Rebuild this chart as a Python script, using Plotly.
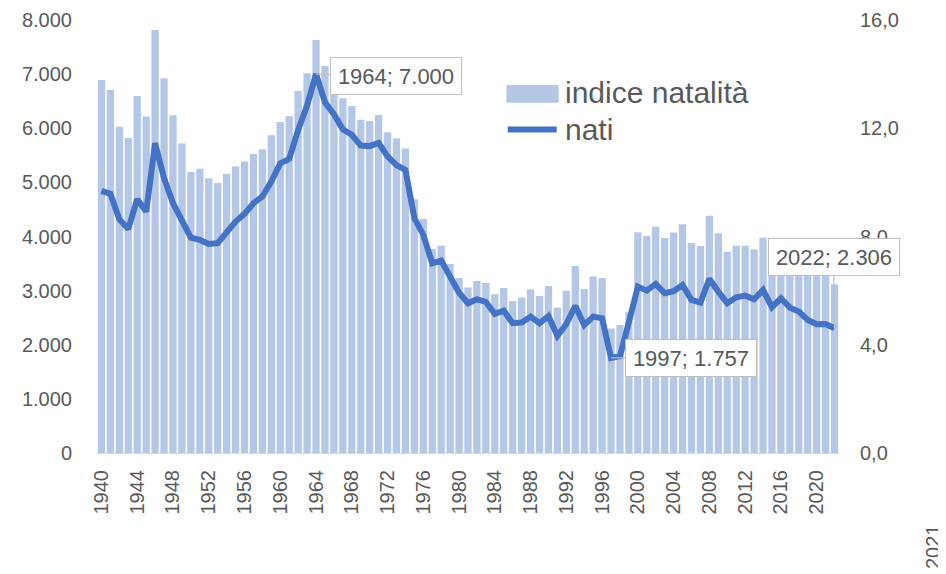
import plotly.graph_objects as go

years = list(range(1940, 2023))

nati = [
    4843, 4787, 4320, 4140, 4689, 4461, 5724, 5077, 4615, 4276,   # 1940-1949
    3980, 3937, 3863, 3876, 4091, 4276, 4418, 4615, 4738, 5015,   # 1950-1959
    5350, 5434, 5970, 6420, 7000, 6480, 6260, 5980, 5880, 5680,   # 1960-1969
    5670, 5730, 5480, 5320, 5231, 4340, 4030, 3506, 3555, 3250,   # 1970-1979
    2960, 2767, 2841, 2790, 2570, 2630, 2397, 2409, 2520, 2397,   # 1980-1989
    2532, 2163, 2384, 2717, 2366, 2520, 2489, 1757, 1790, 2420,   # 1990-1999
    3074, 3000, 3124, 2952, 2990, 3105, 2828, 2779, 3216, 2982,   # 2000-2009
    2767, 2878, 2908, 2841, 3013, 2693, 2859, 2686, 2612, 2458,   # 2010-2019
    2379, 2384, 2306,                                             # 2020-2022
]

indice_natalita = [
    13.78, 13.41, 12.06, 11.64, 13.19, 12.43, 15.63, 13.85, 12.48, 11.44,
    10.38, 10.50, 10.15, 9.98, 10.32, 10.59, 10.77, 11.05, 11.22, 11.74,
    12.23, 12.44, 13.38, 14.03, 15.26, 14.30, 13.90, 13.11, 12.82, 12.31,
    12.27, 12.49, 11.85, 11.63, 11.25, 9.38, 8.65, 7.54, 7.66, 6.98,
    6.47, 6.12, 6.36, 6.28, 5.87, 6.10, 5.62, 5.75, 6.05, 5.80,
    6.17, 5.38, 6.00, 6.91, 6.06, 6.52, 6.47, 4.60, 4.73, 5.20,
    8.16, 8.02, 8.36, 7.94, 8.15, 8.45, 7.76, 7.65, 8.77, 8.12,
    7.44, 7.66, 7.66, 7.53, 7.95, 7.60, 7.45, 7.25, 7.05, 6.80,
    6.60, 6.55, 6.24,
]

x_tick_years = list(range(1940, 2021, 4))
x_tick_labels = [str(y) for y in x_tick_years]
left_ticks = [0, 1000, 2000, 3000, 4000, 5000, 6000, 7000, 8000]
left_tick_labels = ["0", "1.000", "2.000", "3.000", "4.000", "5.000", "6.000", "7.000", "8.000"]
right_ticks = [0, 4, 8, 12, 16]
right_tick_labels = ["0,0", "4,0", "8,0", "12,0", "16,0"]
labelled_years = [1964, 1997, 2022]
series_names = ["indice natalità", "nati"]
stray_label = "2021"

TXT = "#595959"
FONT = "Liberation Sans"
BAR_C = "#B4C7E7"
LINE_C = "#4472C4"

fig = go.Figure()
fig.add_trace(go.Bar(x=years, y=indice_natalita, name=series_names[0],
                     marker=dict(color=BAR_C, line=dict(width=0)), yaxis="y"))
fig.add_trace(go.Scatter(x=years, y=nati, name=series_names[1], mode="lines",
                         line=dict(color=LINE_C, width=6), yaxis="y2"))

def fmt_it(v):
    return f"{v:,}".replace(",", ".")

offsets = {1964: (80, 2), 1997: (80, 0), 2022: (-1, -71)}
for yr in labelled_years:
    v = nati[years.index(yr)]
    ax, ay = offsets[yr]
    fig.add_annotation(x=yr, y=v, xref="x", yref="y2", text=f"{yr}; {fmt_it(v)}",
                       showarrow=True, arrowhead=0, arrowwidth=1.2, arrowcolor="#BFBFBF",
                       ax=ax, ay=ay, bgcolor="white", bordercolor="#BFBFBF", borderwidth=1,
                       borderpad=4, width=122, height=28,
                       font=dict(family=FONT, size=22, color=TXT))

# Legend drawn manually (pixel-mapped paper coords; page pixels)
def px(xp):
    return (xp - 97.2) / 742.2
def py(yp):
    return (453 - yp) / 433

fig.add_shape(type="rect", xref="paper", yref="paper",
              x0=px(506.7), x1=px(559), y0=py(102.7), y1=py(85),
              fillcolor=BAR_C, line=dict(width=0))
fig.add_shape(type="line", xref="paper", yref="paper",
              x0=px(508), x1=px(557), y0=py(129.5), y1=py(129.5),
              line=dict(color=LINE_C, width=6))
fig.add_annotation(xref="paper", yref="paper", x=px(563), y=py(93), xanchor="left",
                   yanchor="middle", text=series_names[0], showarrow=False,
                   font=dict(family=FONT, size=30, color=TXT))
fig.add_annotation(xref="paper", yref="paper", x=px(563), y=py(129), xanchor="left",
                   yanchor="middle", text=series_names[1], showarrow=False,
                   font=dict(family=FONT, size=30, color=TXT))
fig.add_annotation(xref="paper", yref="paper", x=px(946), y=py(571), textangle=-90,
                   xanchor="right", yanchor="bottom",
                   text=stray_label, showarrow=False,
                   font=dict(family=FONT, size=20, color=TXT))

fig.update_layout(
    width=938, height=566,
    margin=dict(l=89, r=107, t=12, b=121),
    paper_bgcolor="white", plot_bgcolor="white",
    showlegend=False, bargap=0.18,
    font=dict(family=FONT, size=20, color=TXT),
    xaxis=dict(range=[1939.5, 2022.5], tickmode="array", tickvals=x_tick_years,
               ticktext=x_tick_labels, tickangle=-90, showgrid=False, zeroline=False,
               showline=True, linecolor="#D9D9D9", linewidth=1, ticks="", automargin=False,
               ticklabelstandoff=8, tickfont=dict(family=FONT, size=20, color=TXT)),
    yaxis=dict(range=[0, 16], side="right", tickmode="array", tickvals=right_ticks,
               ticktext=right_tick_labels, showgrid=False, zeroline=False, showline=False,
               ticks="", ticklabelstandoff=20, automargin=False,
               tickfont=dict(family=FONT, size=20, color=TXT)),
    yaxis2=dict(range=[0, 8000], side="left", overlaying="y", tickmode="array",
                tickvals=left_ticks, ticktext=left_tick_labels, showgrid=False,
                zeroline=False, showline=False, ticks="", ticklabelstandoff=24,
                automargin=False, tickfont=dict(family=FONT, size=20, color=TXT)),
)

fig.write_html("out.html")
